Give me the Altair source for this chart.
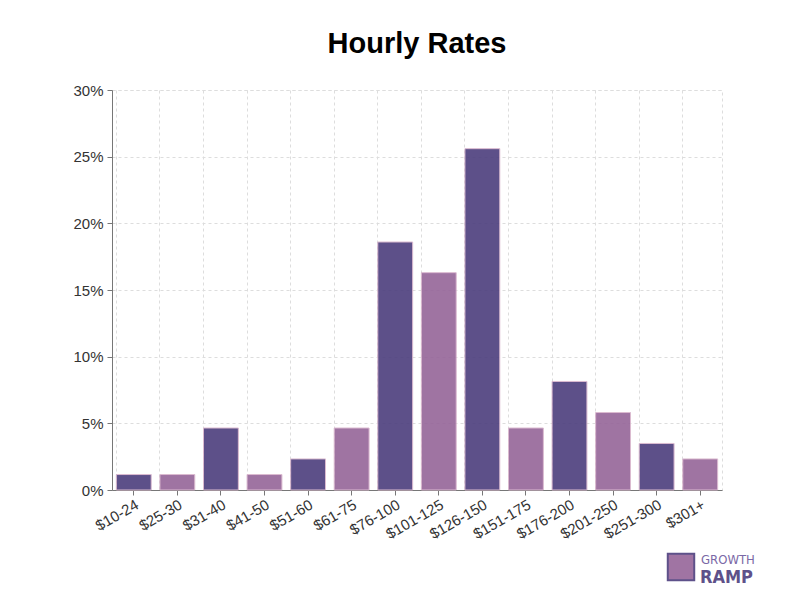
import altair as alt
import pandas as pd

categories = ["$10-24", "$25-30", "$31-40", "$41-50", "$51-60", "$61-75", "$76-100",
              "$101-125", "$126-150", "$151-175", "$176-200", "$201-250", "$251-300", "$301+"]
shares = [0.0116, 0.0116, 0.0465, 0.0116, 0.0233, 0.0465, 0.186,
          0.163, 0.256, 0.0465, 0.0814, 0.0581, 0.0349, 0.0233]
groups = ["a", "b"] * 7
colors = ["#4c3e7d", "#956599"]

df = pd.DataFrame({"cat": categories, "share": shares, "grp": groups})
one = pd.DataFrame({"k": [0]})

x_enc = alt.X("cat:N", sort=categories, title=None,
              scale=alt.Scale(paddingInner=0.2, paddingOuter=0.1),
              axis=alt.Axis(labelAngle=-30, labelAlign="right", labelBaseline="top",
                            labelFontSize=15, labelColor="#333", labelFont="Liberation Sans",
                            domainColor="#777", tickColor="#777", tickSize=5,
                            labelPadding=2, grid=False))
y_enc = alt.Y("share:Q", title=None,
              scale=alt.Scale(domain=[0, 0.30]),
              axis=alt.Axis(format=".0%", values=[0, 0.05, 0.10, 0.15, 0.20, 0.25, 0.30],
                            labelFontSize=15, labelColor="#333", labelFont="Liberation Sans",
                            domainColor="#777", tickColor="#777", tickSize=5, labelPadding=4,
                            grid=True, gridColor="#dddddd", gridDash=[3, 3]))

bars = alt.Chart(df).mark_bar(opacity=0.9, stroke="#d8b4cc", strokeWidth=1).encode(
    x=x_enc,
    y=y_enc,
    color=alt.Color("grp:N", scale=alt.Scale(domain=["a", "b"], range=colors), legend=None),
)

grid = alt.Chart(df).mark_tick(opacity=0).encode(
    x=alt.X("cat:N", sort=categories,
            axis=alt.Axis(orient="top", labels=False, ticks=False, domain=False, title=None,
                          grid=True, bandPosition=0, gridColor="#dddddd", gridDash=[3, 3])),
)

logo_icon = alt.Chart(one).mark_point(shape="square", filled=True, size=700,
                                       color="#a074a3", stroke="#5e518a",
                                       strokeWidth=2, opacity=1).encode(
    x=alt.value(569), y=alt.value(477))
logo_top = alt.Chart(one).mark_text(text="GROWTH", align="left", baseline="alphabetic",
                                    fontSize=13, font="DejaVu Sans Condensed",
                                    fontWeight="normal", color="#7a68a6").encode(
    x=alt.value(589), y=alt.value(474))
logo_bot = alt.Chart(one).mark_text(text="RAMP", align="left", baseline="alphabetic",
                                    fontSize=18, fontWeight="bold", font="DejaVu Sans Condensed",
                                    color="#5e518a").encode(
    x=alt.value(588), y=alt.value(493))

chart = alt.layer(grid, bars, logo_icon, logo_top, logo_bot).resolve_axis(
    x="independent").properties(
    width=610, height=400,
    padding={"left": 64, "top": 22, "right": 20, "bottom": 10},
    title=alt.TitleParams("Hourly Rates", fontSize=29, fontWeight="bold",
                          font="Liberation Sans", color="#000", offset=24, anchor="middle"),
).configure_view(stroke="#dddddd", strokeDash=[3, 3])

chart.save("out.html", embed_options={"renderer": "svg", "actions": False})
